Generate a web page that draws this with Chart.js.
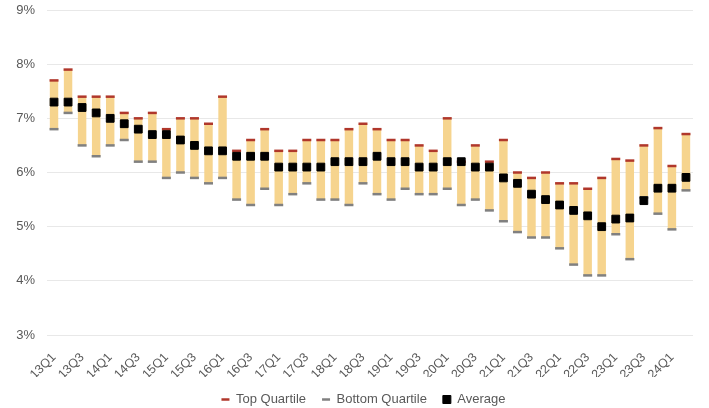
<!DOCTYPE html>
<html>
<head>
<meta charset="utf-8">
<script src="https://cdn.jsdelivr.net/npm/chart.js@4.4.1/dist/chart.umd.min.js"></script>
<style>
    html, body { margin: 0; padding: 0; background: #ffffff; }
    #wrap { width: 709px; height: 408px; position: relative; }
</style>
</head>
<body>
<div id="wrap"><canvas id="quartileChart"></canvas></div>
<script>
// quarters 13Q1 .. 24Q2
const quarters = [
    '13Q1', '13Q2', '13Q3', '13Q4', '14Q1', '14Q2', '14Q3', '14Q4',
    '15Q1', '15Q2', '15Q3', '15Q4', '16Q1', '16Q2', '16Q3', '16Q4',
    '17Q1', '17Q2', '17Q3', '17Q4', '18Q1', '18Q2', '18Q3', '18Q4',
    '19Q1', '19Q2', '19Q3', '19Q4', '20Q1', '20Q2', '20Q3', '20Q4',
    '21Q1', '21Q2', '21Q3', '21Q4', '22Q1', '22Q2', '22Q3', '22Q4',
    '23Q1', '23Q2', '23Q3', '23Q4', '24Q1', '24Q2'
];

// values in %
const topQuartile = [
    7.7, 7.9, 7.4, 7.4, 7.4, 7.1, 7.0, 7.1, 6.8, 7.0, 7.0, 6.9, 7.4,
    6.4, 6.6, 6.8, 6.4, 6.4, 6.6, 6.6, 6.6, 6.8, 6.9, 6.8, 6.6, 6.6, 6.5, 6.4, 7.0, 6.2,
    6.5, 6.2, 6.6, 6.0, 5.9, 6.0, 5.8, 5.8, 5.7, 5.9, 6.25, 6.22, 6.5, 6.82, 6.12, 6.71
];
const bottomQuartile = [
    6.8, 7.1, 6.5, 6.3, 6.5, 6.6, 6.2, 6.2, 5.9, 6.0, 5.9, 5.8, 5.9,
    5.5, 5.4, 5.7, 5.4, 5.6, 5.8, 5.5, 5.5, 5.4, 5.8, 5.6, 5.5, 5.7, 5.6, 5.6, 5.7, 5.4,
    5.5, 5.3, 5.1, 4.9, 4.8, 4.8, 4.6, 4.3, 4.1, 4.1, 4.86, 4.4, 5.54, 5.24, 4.95, 5.67
];
const average = [
    7.3, 7.3, 7.2, 7.1, 7.0, 6.9, 6.8, 6.7, 6.7, 6.6, 6.5, 6.4, 6.4,
    6.3, 6.3, 6.3, 6.1, 6.1, 6.1, 6.1, 6.2, 6.2, 6.2, 6.3, 6.2, 6.2, 6.1, 6.1, 6.2, 6.2,
    6.1, 6.1, 5.9, 5.8, 5.6, 5.5, 5.4, 5.3, 5.2, 5.0, 5.14, 5.16, 5.48, 5.71, 5.71, 5.91
];
const yTicks = [3, 4, 5, 6, 7, 8, 9];

const colors = {
    range: '#F6D48E',
    top: '#B0372B',
    bottom: '#808080',
    avg: '#000000',
    text: '#595959',
    grid: '#E8E8E8'
};

const fontFamily = '"Liberation Sans", Arial, sans-serif';

// keeps the legend low and a bit right of centre, like the original
const legendPlacement = {
    id: 'legendPlacement',
    afterInit(chart) {
        const legend = chart.legend;
        const fit = legend.fit;
        legend.fit = function () {
            fit.call(this);
            this.height = 31;
        };
    },
    afterLayout(chart) {
        chart.legend.left += 34;
    }
};

function initializeQuartileChart() {
    const ctx = document.getElementById('quartileChart');
    if (!ctx) return;

    const rangeData = quarters.map((q, i) => [bottomQuartile[i], topQuartile[i]]);

    new Chart(ctx.getContext('2d'), {
        data: {
            labels: quarters,
            datasets: [
                {
                    type: 'line',
                    label: 'Top Quartile',
                    data: topQuartile,
                    showLine: false,
                    pointStyle: 'line',
                    pointRadius: 4.5,
                    pointHoverRadius: 4.5,
                    borderColor: colors.top,
                    backgroundColor: colors.top,
                    borderWidth: 2.5,
                    order: 1
                },
                {
                    type: 'line',
                    label: 'Bottom Quartile',
                    data: bottomQuartile,
                    showLine: false,
                    pointStyle: 'line',
                    pointRadius: 4.5,
                    pointHoverRadius: 4.5,
                    borderColor: colors.bottom,
                    backgroundColor: colors.bottom,
                    borderWidth: 2.5,
                    order: 1
                },
                {
                    type: 'line',
                    label: 'Average',
                    data: average,
                    showLine: false,
                    pointStyle: 'rect',
                    pointRadius: 5.5,
                    pointHoverRadius: 5.5,
                    borderColor: colors.avg,
                    backgroundColor: colors.avg,
                    borderWidth: 1,
                    order: 0
                },
                {
                    type: 'bar',
                    label: 'Range',
                    data: rangeData,
                    backgroundColor: colors.range,
                    borderWidth: 0,
                    barPercentage: 0.6,
                    categoryPercentage: 1.0,
                    order: 2
                }
            ]
        },
        options: {
            responsive: true,
            maintainAspectRatio: false,
            animation: false,
            layout: { padding: { left: 0, right: 16, top: 10, bottom: 0 } },
            plugins: {
                tooltip: { enabled: false },
                legend: {
                    display: true,
                    position: 'bottom',
                    labels: {
                        usePointStyle: true,
                        pointStyleWidth: 8,
                        boxWidth: 8,
                        boxHeight: 8,
                        padding: 16,
                        color: colors.text,
                        font: { size: 13, family: fontFamily },
                        filter: (item) => item.text !== 'Range',
                        sort: (a, b) => a.datasetIndex - b.datasetIndex
                    }
                }
            },
            scales: {
                x: {
                    afterFit: (scale) => { scale.height = 42; },
                    grid: { display: false },
                    border: { display: false },
                    ticks: {
                        autoSkip: false,
                        maxRotation: 45,
                        minRotation: 45,
                        padding: 7,
                        color: colors.text,
                        font: { size: 12.5, family: fontFamily },
                        callback: (v, i) => (i % 2 === 0 ? quarters[i] : '')
                    }
                },
                y: {
                    min: yTicks[0],
                    max: yTicks[yTicks.length - 1],
                    afterFit: (scale) => {
                        scale.width = 47;
                        scale.paddingTop = 0;
                        scale.paddingBottom = 0;
                    },
                    afterBuildTicks: (scale) => { scale.ticks = yTicks.map(v => ({ value: v })); },
                    grid: { color: colors.grid, lineWidth: 1, drawTicks: false },
                    border: { display: false },
                    ticks: {
                        padding: 12,
                        color: colors.text,
                        font: { size: 13, family: fontFamily },
                        callback: (v) => v + '%'
                    }
                }
            }
        },
        plugins: [legendPlacement]
    });
}

document.addEventListener('DOMContentLoaded', initializeQuartileChart);
</script>
</body>
</html>
